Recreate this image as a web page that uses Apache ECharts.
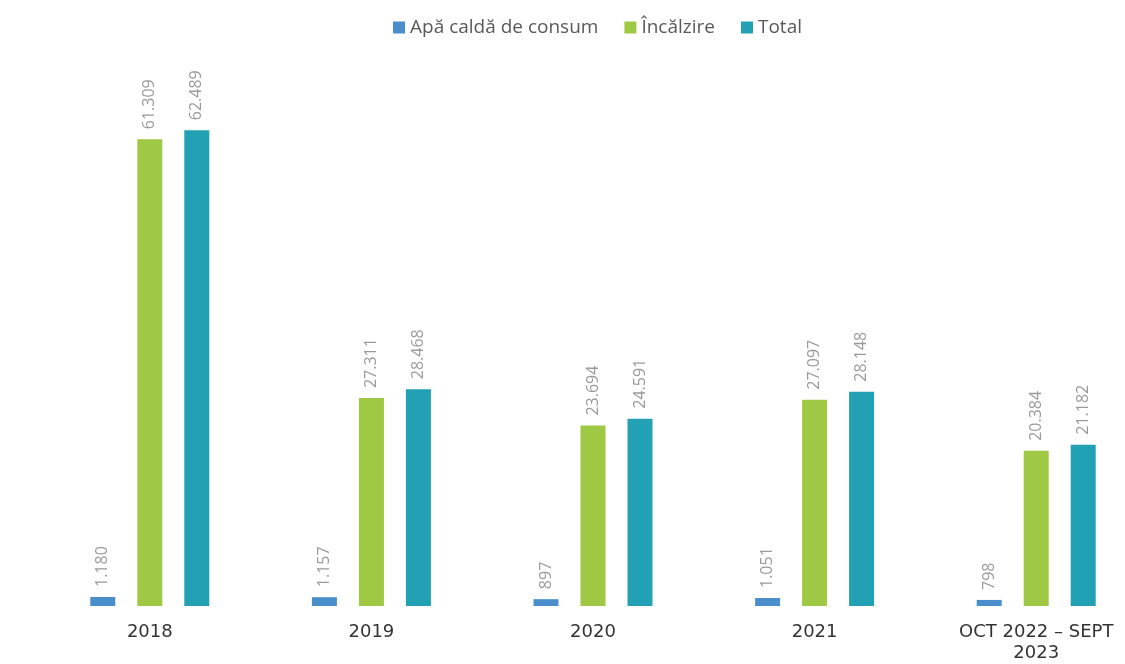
<!DOCTYPE html>
<html>
<head>
<meta charset="utf-8">
<script src="https://cdn.jsdelivr.net/npm/echarts@6/dist/echarts.min.js"></script>
<style>
  html, body { margin: 0; padding: 0; background: #fff; overflow: hidden; }
  #chart { width: 1147px; height: 664px; }
</style>
</head>
<body>
<div id="chart"></div>
<script>
// date
const categories = ['2018', '2019', '2020', '2021', 'OCT 2022 – SEPT 2023']
const apaCalda = [1180, 1157, 897, 1051, 798]
const incalzire = [61309, 27311, 23694, 27097, 20384]
const total = [62489, 28468, 24591, 28148, 21182]
const seriesNames = ['Apă caldă de consum', 'Încălzire', 'Total']
const colors = ['#4a8fcc', '#9fc844', '#22a0b4']

const chart = echarts.init(document.getElementById('chart'))

// separator de mii cu punct
const fmt = (v) => String(v).replace(/\B(?=(\d{3})+(?!\d))/g, '.')

const makeSeries = (name, data, color) => ({
  name,
  type: 'bar',
  data,
  barWidth: 25,
  barGap: '88%',
  itemStyle: { color },
  label: {
    show: true,
    position: 'top',
    rotate: 90,
    align: 'left',
    verticalAlign: 'middle',
    distance: 10,
    color: '#9a9a9a',
    fontSize: 16,
    fontFamily: 'Open Sans',
    formatter: (p) => fmt(p.value)
  }
})

const option = {
  animation: false,
  color: colors,
  legend: {
    top: 13,
    left: 388,
    itemWidth: 12,
    itemHeight: 12,
    itemGap: 26,
    icon: 'rect',
    textStyle: { color: '#595959', fontSize: 19, fontFamily: 'Open Sans' },
    data: seriesNames
  },
  grid: { left: 39, right: 0, top: 73, bottom: 58 },
  xAxis: {
    type: 'category',
    data: categories,
    axisLine: { show: false },
    axisTick: { show: false },
    axisLabel: {
      color: '#333',
      fontSize: 18,
      fontFamily: 'DejaVu Sans',
      margin: 16,
      lineHeight: 21,
      interval: 0,
      formatter: (v) => v.replace(' 2023', '\n2023')
    }
  },
  yAxis: {
    type: 'value',
    min: 0,
    max: 70000,
    show: false,
    splitLine: { show: false }
  },
  series: [
    makeSeries(seriesNames[0], apaCalda, colors[0]),
    makeSeries(seriesNames[1], incalzire, colors[1]),
    makeSeries(seriesNames[2], total, colors[2])
  ]
}

chart.setOption(option)
</script>
</body>
</html>
